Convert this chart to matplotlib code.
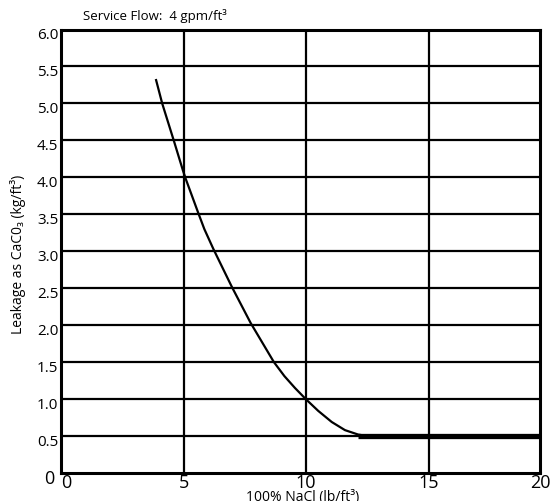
import matplotlib
matplotlib.use('Agg')
import matplotlib.pyplot as plt
import matplotlib.transforms as mtransforms

plt.rcParams['font.family'] = ['Open Sans', 'DejaVu Sans']

# leakage curve
salt_dose = [3.87, 4.13, 4.62, 4.97, 5.09, 5.60, 5.85, 6.22, 6.97, 7.74, 8.69,
             9.12, 9.55, 9.99, 10.50, 11.05, 11.59, 12.13, 12.68, 13.09]
leakage = [5.33, 5.0, 4.48, 4.10, 3.98, 3.52, 3.30, 3.03, 2.52, 2.03, 1.50,
           1.31, 1.15, 1.0, 0.84, 0.69, 0.58, 0.52, 0.49, 0.49]
# thick plateau
flat_x = [12.13, 19.55]
flat_y = [0.5, 0.5]

x_ticks = [0, 5, 10, 15, 19.55]
x_labels = ['0', '5', '10', '15', '20']
y_ticks = [0, 0.5, 1.0, 1.5, 2.0, 2.5, 3.0, 3.5, 4.0, 4.5, 5.0, 5.5, 6.0]
y_labels = ['0', '0.5', '1.0', '1.5', '2.0', '2.5', '3.0', '3.5', '4.0', '4.5', '5.0', '5.5', '6.0']

fig = plt.figure(figsize=(5.59, 5.01), dpi=100)
ax = fig.add_axes([61 / 559, 1 - 473 / 501, 479 / 559, 443.5 / 501])

ax.set_xlim(0, 19.55)
ax.set_ylim(0, 6.0)

for yv in y_ticks[1:-1]:
    ax.axhline(yv, color='black', lw=1.6, zorder=1)
for xv in x_ticks[1:-1]:
    ax.axvline(xv, color='black', lw=1.6, zorder=1)

ax.plot(salt_dose, leakage, color='black', lw=1.6, zorder=3,
        solid_capstyle='butt', solid_joinstyle='round')
ax.plot(flat_x, flat_y, color='black', lw=3.8, zorder=3, solid_capstyle='butt')

for s in ax.spines.values():
    s.set_linewidth(2.2)
    s.set_color('black')

ax.set_xticks(x_ticks)
ax.set_xticklabels(x_labels, fontsize=13)
ax.set_yticks(y_ticks)
ax.set_yticklabels(y_labels, fontsize=11)
ax.tick_params(axis='x', length=0, pad=0.5)
ax.tick_params(axis='y', length=0, pad=2)

xl = ax.get_xticklabels()
xl[0].set_horizontalalignment('left')
shift = mtransforms.ScaledTranslation(0, -4 / 100, fig.dpi_scale_trans)
for lab in ax.get_yticklabels():
    lab.set_transform(lab.get_transform() + shift)
yl = ax.get_yticklabels()
yl[0].set_fontsize(13)
yl[0].set_transform(yl[0].get_transform()
                    + mtransforms.ScaledTranslation(-4 / 100, 0, fig.dpi_scale_trans))

fig.text(83 / 559, 1 - 16 / 501, 'Service Flow:  4 gpm/ft³', fontsize=9.5, va='center', ha='left')
fig.text(18 / 559, 1 - 254 / 501, 'Leakage as CaC0₃ (kg/ft³)', fontsize=10,
         rotation=90, va='center', ha='center')
fig.text(303 / 559, 1 - 490.5 / 501, '100% NaCl (lb/ft³)', fontsize=10, va='top', ha='center')

fig.savefig('out.png', dpi=100)
